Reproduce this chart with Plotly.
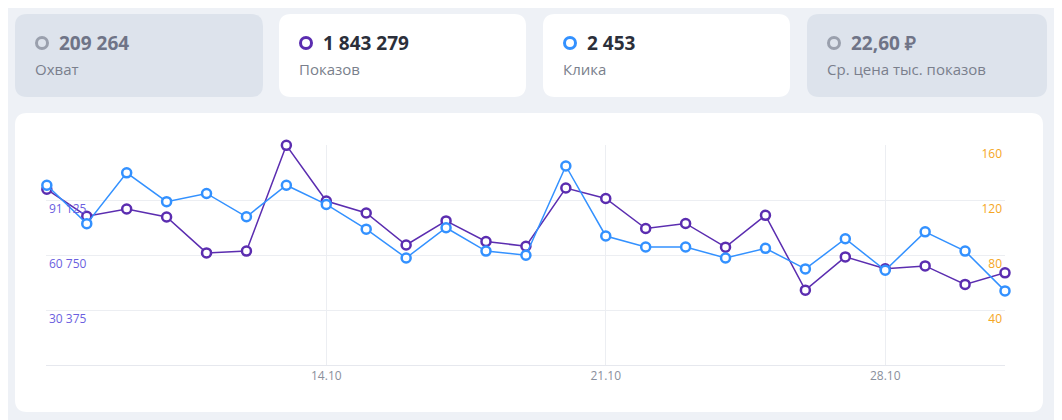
import plotly.graph_objects as go

dates = ["2024-10-%02d" % d for d in range(7, 32)]
shows = [97200, 82300, 86300, 81900, 62000, 63000, 121500, 90700, 84100, 66400, 79700, 68300, 65700,
         97900, 92100, 75500, 78300, 65200, 82800, 41400, 59800, 53200, 54800, 44600, 51000]
clicks = [131, 103, 140, 119, 125, 108, 131, 117, 99, 78, 100, 83, 80,
          145, 94, 86, 86, 78, 85, 70, 92, 69, 97, 83, 54]
left_ticks = [30375, 60750, 91125, 121500]
left_labels = ["30 375", "60 750", "91 125", "121 500"]
right_ticks = [40, 80, 120, 160]
x_ticks = ["2024-10-07", "2024-10-14", "2024-10-21", "2024-10-28"]
x_labels = ["07.10", "14.10", "21.10", "28.10"]
cards = [("209 264", "Охват", "#dde3ec", "#9aa0ad", "#6f7487"),
         ("1 843 279", "Показов", "#ffffff", "#5b2db0", "#2b2f3a"),
         ("2 453", "Клика", "#ffffff", "#3391ff", "#2b2f3a"),
         ("22,60 ₽", "Ср. цена тыс. показов", "#dde3ec", "#9aa0ad", "#6f7487")]
card_x = [(15, 263), (279, 526), (543, 790), (807, 1047)]

OFF = 8
W, H = 1062 - OFF, 420 - OFF
L, R, T, B = 46, 1005, 145, 365
px = lambda x: (x - L) / (R - L)
py = lambda y: (B - y) / (B - T)

fig = go.Figure()
fig.add_trace(go.Scatter(x=dates, y=shows, mode="lines+markers", yaxis="y", cliponaxis=False,
                         line=dict(color="#5b2db0", width=1.5),
                         marker=dict(size=9, color="white", line=dict(color="#5b2db0", width=2.5)),
                         showlegend=False))
fig.add_trace(go.Scatter(x=dates, y=clicks, mode="lines+markers", yaxis="y2", cliponaxis=False,
                         line=dict(color="#3391ff", width=1.5),
                         marker=dict(size=9, color="white", line=dict(color="#3391ff", width=2.5)),
                         showlegend=False))

shapes = []
def rrect(x0, y0, x1, y1, color, r=12):
    X0, X1, Y0, Y1 = px(x0), px(x1), py(y0), py(y1)
    rx, ry = r / (R - L), r / (B - T)
    path = (f"M{X0+rx},{Y0} L{X1-rx},{Y0} Q{X1},{Y0} {X1},{Y0-ry} L{X1},{Y1+ry} Q{X1},{Y1} {X1-rx},{Y1} "
            f"L{X0+rx},{Y1} Q{X0},{Y1} {X0},{Y1+ry} L{X0},{Y0-ry} Q{X0},{Y0} {X0+rx},{Y0} Z")
    shapes.append(dict(type="path", xref="paper", yref="paper", path=path,
                       fillcolor=color, line=dict(width=0), layer="below"))

rrect(15, 113, 1043, 412, "#ffffff")
annotations = []
for (num, lab, bg, ring, tc), (x0, x1) in zip(cards, card_x):
    rrect(x0, 14, x1, 97, bg)
    cx, cy = x0 + 27, 43
    shapes.append(dict(type="circle", xref="paper", yref="paper",
                       x0=px(cx - 5.5), x1=px(cx + 5.5), y0=py(cy + 5.5), y1=py(cy - 5.5),
                       line=dict(color=ring, width=3), fillcolor="rgba(0,0,0,0)"))
    annotations.append(dict(xref="paper", yref="paper", x=px(x0 + 42), y=py(43), text=f"<b>{num}</b>",
                            showarrow=False, xanchor="left", yanchor="middle",
                            font=dict(size=19, color=tc, family="Open Sans")))
    annotations.append(dict(xref="paper", yref="paper", x=px(x0 + 18), y=py(69), text=lab,
                            showarrow=False, xanchor="left", yanchor="middle",
                            font=dict(size=15, color="#7a7f8c", family="Open Sans")))

fig.update_layout(
    width=W, height=H, margin=dict(l=L - OFF, r=1062 - R, t=T - OFF, b=420 - B),
    paper_bgcolor="#eef1f6", plot_bgcolor="rgba(0,0,0,0)",
    font=dict(family="Open Sans"),
    shapes=shapes, annotations=annotations,
    xaxis=dict(type="date", range=["2024-10-06 23:30", "2024-10-31"], tickvals=x_ticks, ticktext=x_labels,
               showgrid=True, gridcolor="#eceef2", showline=True, linecolor="#e6e8ee",
               tickfont=dict(size=12, color="#8a8f9c"), ticks="", zeroline=False),
    yaxis=dict(range=[0, 121700], tickvals=left_ticks, ticktext=left_labels,
               ticklabelposition="inside bottom", gridcolor="#eceef2", zeroline=False,
               tickfont=dict(size=12, color="#6b5fe0")),
    yaxis2=dict(range=[0, 160.3], tickvals=right_ticks, overlaying="y", side="right",
                ticklabelposition="inside bottom", showgrid=False, zeroline=False,
                tickfont=dict(size=12, color="#f5a623")),
)
fig.write_html("out.html")
